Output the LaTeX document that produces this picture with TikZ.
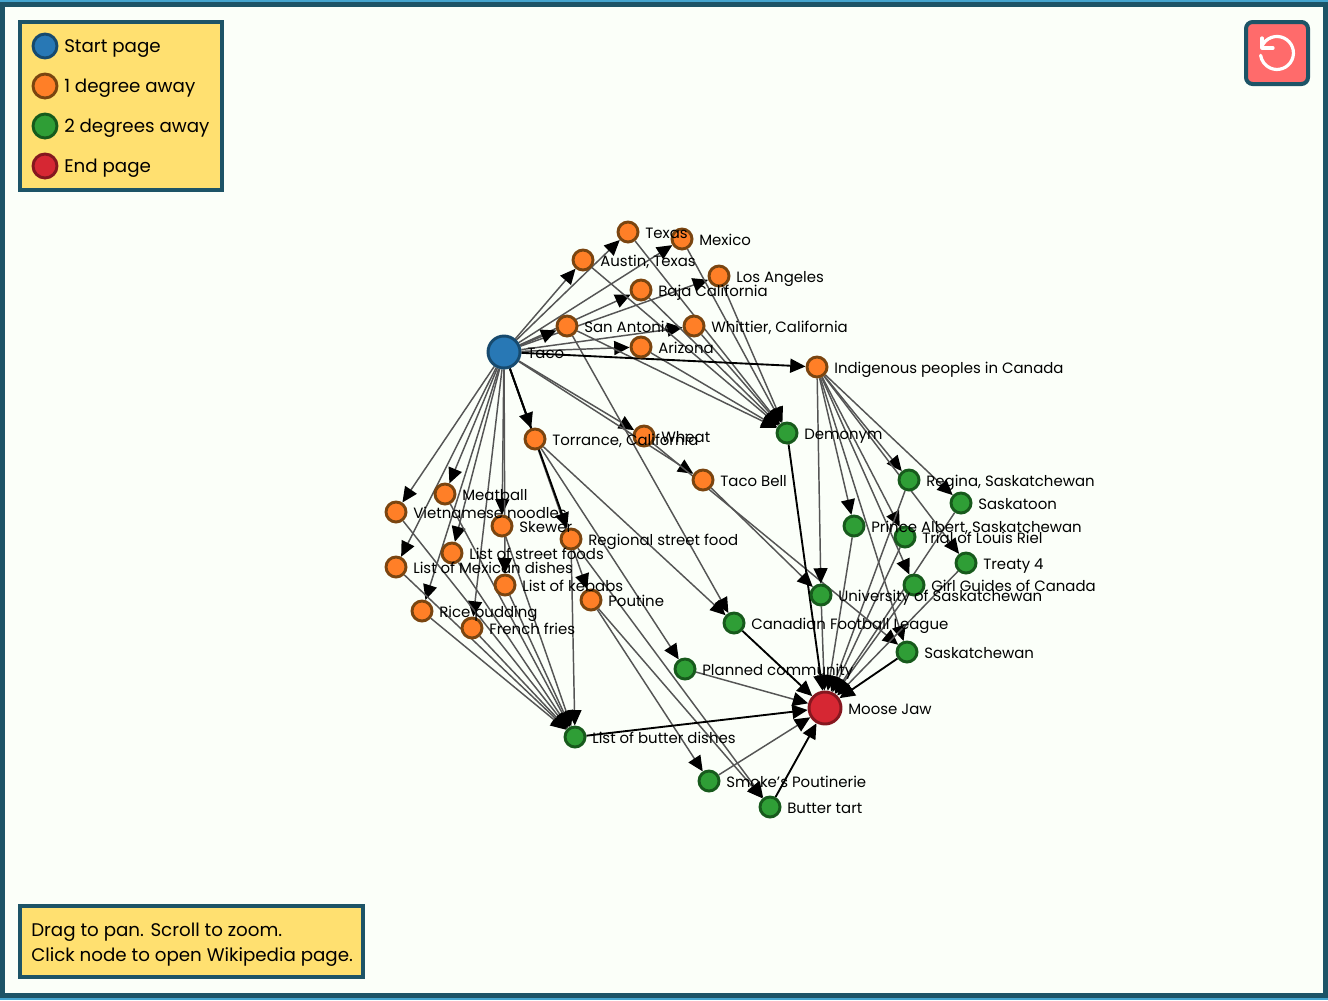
\documentclass[tikz,border=0pt]{standalone}
\usepackage{fontspec}
\setmainfont{Poppins}
\usetikzlibrary{arrows.meta, backgrounds}

\definecolor{framecol}{HTML}{1D5467}
\definecolor{skycol}{HTML}{45A5CF}
\definecolor{paper}{HTML}{FBFFF9}
\definecolor{boxcol}{HTML}{FFE070}
\definecolor{resetcol}{HTML}{FF6B6B}
\definecolor{bluefill}{HTML}{2878B5}
\definecolor{blueline}{HTML}{174A6E}
\definecolor{orangefill}{HTML}{FF7F27}
\definecolor{orangeline}{HTML}{7A4510}
\definecolor{greenfill}{HTML}{2F9E36}
\definecolor{greenline}{HTML}{175A1C}
\definecolor{redfill}{HTML}{D62733}
\definecolor{redline}{HTML}{85171F}
\definecolor{edgecol}{HTML}{555555}

\tikzset{
  pagenode/.style={circle, draw, line width=2.2pt, inner sep=0pt, minimum size=15pt},
  startpage/.style={pagenode, fill=bluefill, draw=blueline, minimum size=24pt},
  onedeg/.style={pagenode, fill=orangefill, draw=orangeline},
  twodeg/.style={pagenode, fill=greenfill, draw=greenline},
  endpage/.style={pagenode, fill=redfill, draw=redline, minimum size=24pt},
  legenddot/.style={minimum size=18pt},
  link/.style={draw=edgecol, line width=1.1pt, -{Triangle[length=11.5pt,width=10.5pt,color=black]}},
  mainlink/.style={draw=black, line width=1.4pt, -{Triangle[length=11.5pt,width=10.5pt,color=black]}},
  pagelabel/.style={anchor=base west, inner sep=0pt, font=\fontsize{11.2}{13}\selectfont},
  boxtext/.style={anchor=base west, inner sep=0pt, font=\fontsize{13.7}{16}\selectfont},
  infobox/.style={draw=framecol, fill=boxcol, line width=3pt},
}

% name/x/y/style/label
\def\pagelist{taco/504/352/startpage/Taco,
  austin/583/260/onedeg/{Austin, Texas}, texas/628/232/onedeg/Texas,
  mexico/682/239/onedeg/Mexico, losangeles/719/276/onedeg/Los Angeles,
  baja/641/290/onedeg/Baja California, sanantonio/567/326/onedeg/San Antonio,
  whittier/694/326/onedeg/{Whittier, California}, arizona/641/347/onedeg/Arizona,
  indigenous/817/367/onedeg/Indigenous peoples in Canada,
  torrance/535/439/onedeg/{Torrance, California}, wheat/644/436/onedeg/Wheat,
  tacobell/703/480/onedeg/Taco Bell, meatball/445/494/onedeg/Meatball,
  vietnamese/396/512/onedeg/Vietnamese noodles, skewer/502/526/onedeg/Skewer,
  regional/571/539/onedeg/Regional street food,
  streetfoods/452/553/onedeg/List of street foods,
  mexican/396/567/onedeg/List of Mexican dishes,
  kebabs/505/585/onedeg/List of kebabs, poutine/591/600/onedeg/Poutine,
  rice/422/611/onedeg/Rice pudding, fries/472/628/onedeg/French fries,
  demonym/787/433/twodeg/Demonym, regina/909/480/twodeg/{Regina, Saskatchewan},
  saskatoon/961/503/twodeg/Saskatoon,
  prince/854/526/twodeg/{Prince Albert, Saskatchewan},
  riel/905/537/twodeg/Trial of Louis Riel, treaty/966/563/twodeg/Treaty 4,
  guides/914/585/twodeg/Girl Guides of Canada,
  university/821/595/twodeg/University of Saskatchewan,
  football/734/623/twodeg/Canadian Football League,
  saskatchewan/907/652/twodeg/Saskatchewan,
  planned/685/669/twodeg/Planned community,
  butterdishes/575/737/twodeg/List of butter dishes,
  smoke/709/781/twodeg/Smoke's Poutinerie, tart/770/807/twodeg/Butter tart,
  moose/825/708/endpage/Moose Jaw}

\begin{document}
\begin{tikzpicture}[x=.75pt, y=-.75pt]
\useasboundingbox (0,0) rectangle (1328,1000);

\begin{scope}[on background layer]
\fill[skycol] (0,0) rectangle (1328,1000);
\fill[framecol] (0,2) rectangle (1328,998);
\fill[paper] (5,7) rectangle (1323,993);
\end{scope}

% pages
\foreach \n/\x/\y/\s/\t in \pagelist {
  \node[\s] (\n) at (\x,\y) {};
}

% links
\begin{scope}[on background layer]
\foreach \a/\b in {taco/austin, taco/texas, taco/mexico, taco/losangeles, taco/baja, taco/sanantonio,
  taco/whittier, taco/arizona, taco/wheat, taco/tacobell, taco/meatball, taco/vietnamese,
  taco/skewer, taco/streetfoods, taco/mexican, taco/kebabs, taco/poutine, taco/rice, taco/fries,
  austin/demonym, texas/demonym, mexico/demonym, losangeles/demonym, baja/demonym,
  whittier/demonym, arizona/demonym, sanantonio/demonym, sanantonio/football,
  torrance/football, torrance/planned, tacobell/university, wheat/saskatchewan,
  indigenous/university, indigenous/prince, indigenous/riel, indigenous/regina, indigenous/saskatoon,
  indigenous/treaty, indigenous/guides, indigenous/saskatchewan,
  meatball/butterdishes, vietnamese/butterdishes, skewer/butterdishes, regional/butterdishes,
  streetfoods/butterdishes, mexican/butterdishes, kebabs/butterdishes, rice/butterdishes, fries/butterdishes,
  regional/tart, poutine/smoke, poutine/tart,
  university/moose, prince/moose, regina/moose, riel/moose, saskatoon/moose, guides/moose, treaty/moose,
  planned/moose, smoke/moose} {
  \draw[link] (\a) -- (\b);
}
\foreach \a/\b in {taco/indigenous, taco/torrance, taco/regional, demonym/moose, football/moose,
  saskatchewan/moose, butterdishes/moose, tart/moose} {
  \draw[mainlink] (\a) -- (\b);
}
\end{scope}

% labels on top of everything
\foreach \n/\x/\y/\s/\t in \pagelist {
  \node[pagelabel] (\n-label) at ([xshift=4.2pt,yshift=-4.6pt]\n.east) {\t};
}

% legend
\node[infobox, minimum width=151.5pt, minimum height=126pt, anchor=north west, inner sep=0pt] (legend) at (18,20) {};
\node[pagenode, legenddot, fill=bluefill, draw=blueline] (legendstart) at (45,46) {};
\node[pagenode, legenddot, fill=orangefill, draw=orangeline] (legendone) at (45,86) {};
\node[pagenode, legenddot, fill=greenfill, draw=greenline] (legendtwo) at (45,126) {};
\node[pagenode, legenddot, fill=redfill, draw=redline] (legendend) at (45,166) {};
\node[boxtext] (legendstarttext) at (64,52) {Start page};
\node[boxtext] (legendonetext) at (64,92) {1 degree away};
\node[boxtext] (legendtwotext) at (64,132) {2 degrees away};
\node[boxtext] (legendendtext) at (64,172) {End page};

% help box
\node[infobox, minimum width=257.25pt, minimum height=53.25pt, anchor=north west, inner sep=0pt] (help) at (18,904) {};
\node[boxtext] (helpone) at (31,936) {Drag to pan. Scroll to zoom.};
\node[boxtext] (helptwo) at (31,961) {Click node to open Wikipedia page.};

% reset button
\node[draw=framecol, fill=resetcol, line width=3pt, rounded corners=5pt, minimum size=46.5pt, inner sep=0pt] (reset) at (1277,53) {};
\draw[white, line width=2.4pt, line cap=round, line join=round] (1262,46) arc[start angle=-155, end angle=172, radius=16.5];
\draw[white, line width=2.4pt, line cap=round, line join=round] (1262,38) -- (1262,48) -- (1273,48);

\end{tikzpicture}
\end{document}
